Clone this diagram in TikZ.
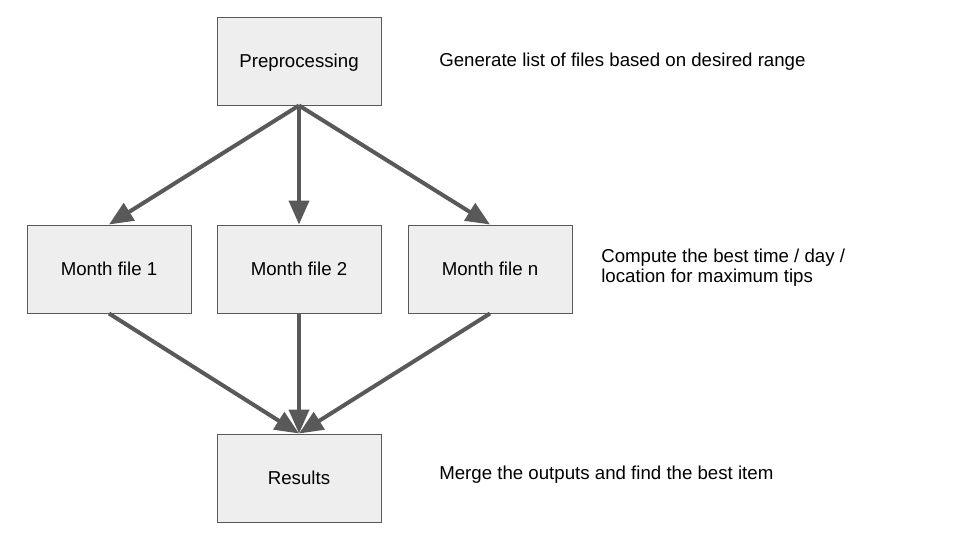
\documentclass[tikz,border=0pt]{standalone}
\usepackage{fontspec}
\setmainfont{Liberation Sans}
\usetikzlibrary{arrows.meta}
\definecolor{edge}{HTML}{595959}
\definecolor{boxfill}{HTML}{EEEEEE}
\begin{document}
\begin{tikzpicture}[x=0.75pt,y=-0.75pt,
  stepbox/.style={draw=edge,line width=0.75pt,fill=boxfill,minimum width=123pt,minimum height=66pt,inner sep=0pt,text height=10pt,text depth=0pt,font=\fontsize{14}{16}\selectfont},
  conn/.style={draw=edge,line width=3pt,-{Triangle[length=18pt,width=15pt]}},
  note/.style={anchor=west,inner sep=0pt,font=\fontsize{14}{16}\selectfont,align=left}]
\useasboundingbox (0,0) rectangle (960,540);
\node[stepbox] (pre) at (299,61) {Preprocessing};
\node[stepbox] (m1) at (109,269) {Month file 1};
\node[stepbox] (m2) at (299,269) {Month file 2};
\node[stepbox] (mn) at (490,269) {Month file n};
\node[stepbox] (res) at (299,478) {Results};
\draw[conn] (pre.south) -- (m1.north);
\draw[conn] (pre.south) -- (m2.north);
\draw[conn] (pre.south) -- (mn.north);
\draw[conn] (m1.south) -- (res.north);
\draw[conn] (m2.south) -- (res.north);
\draw[conn] (mn.south) -- (res.north);
\node[note] (t1) at (439,62) {Generate list of files based on desired range};
\node[note,font=\fontsize{14}{15}\selectfont] (t2) at (601,268) {Compute the best time / day /\\location for maximum tips};
\node[note] (t3) at (439,475) {Merge the outputs and find the best item};
\end{tikzpicture}
\end{document}
